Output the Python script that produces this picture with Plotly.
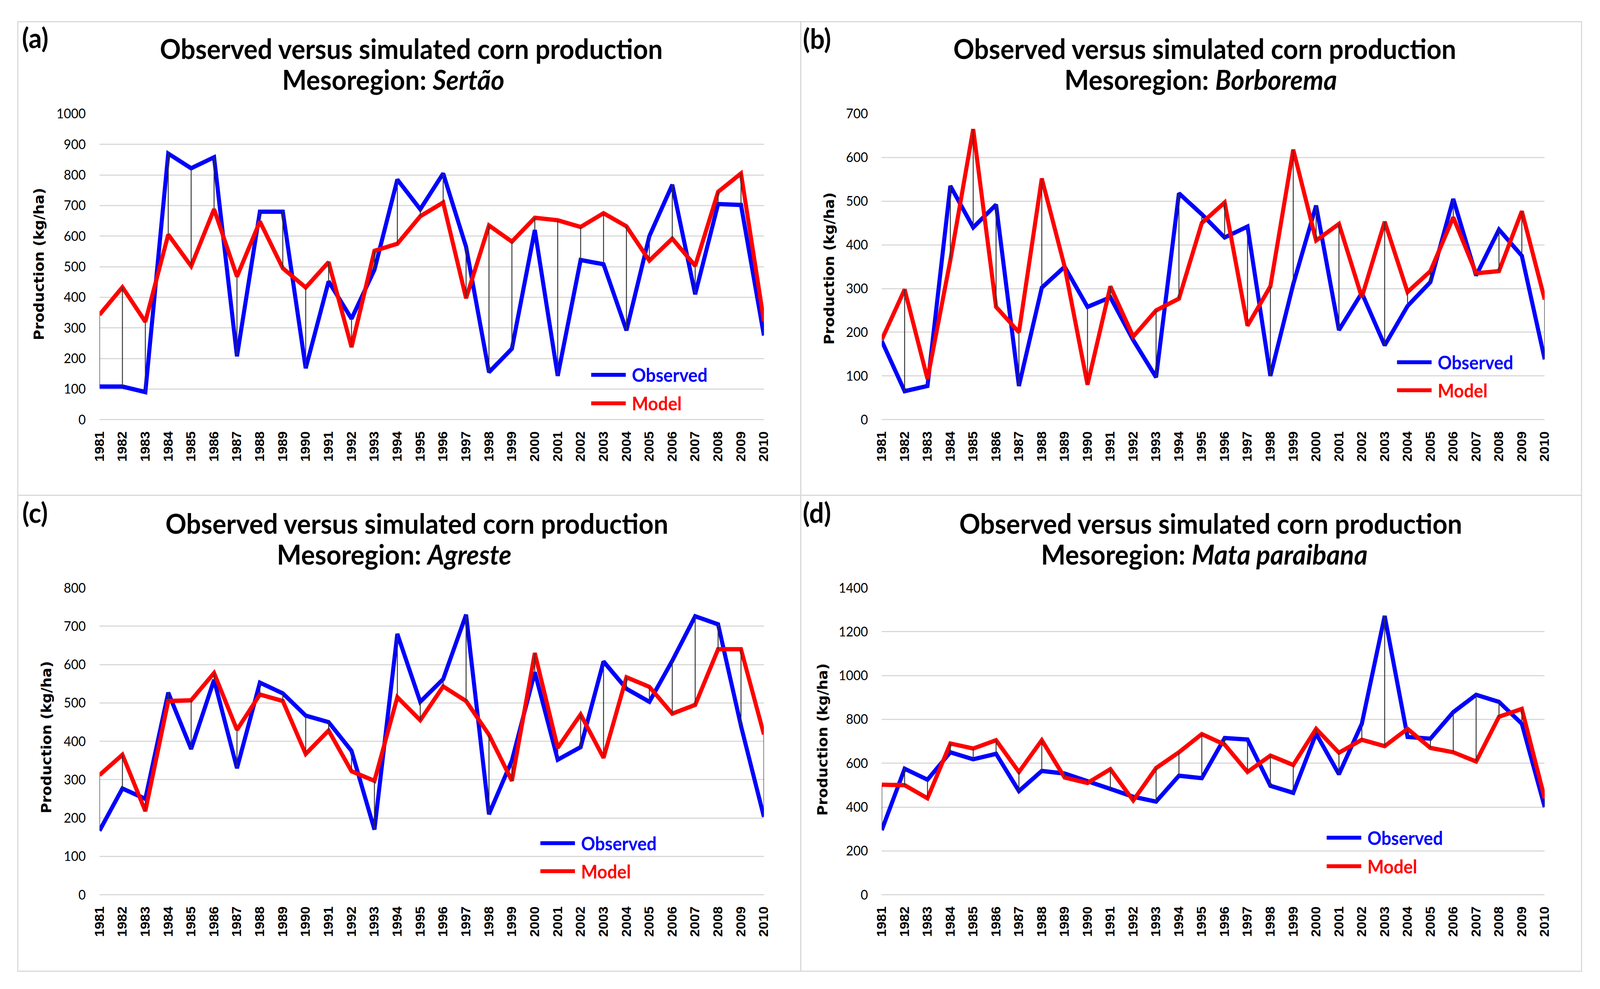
import plotly.graph_objects as go

W, H = 4305, 2533

years = [str(y) for y in range(1981, 2011)]

# (a) Sertão
obs_a = [108, 108, 90, 870, 822, 858, 207, 680, 680, 168, 452, 330, 490, 785, 688, 805, 565, 155, 232, 620,
         143, 522, 508, 292, 600, 768, 410, 705, 702, 275]
mod_a = [343, 433, 320, 605, 502, 688, 468, 648, 495, 432, 515, 237, 552, 575, 665, 710, 397, 635, 582, 660,
         652, 630, 675, 632, 520, 592, 503, 745, 805, 322]
# (b) Borborema
obs_b = [180, 65, 77, 535, 440, 492, 77, 302, 350, 258, 280, 182, 97, 518, 470, 417, 442, 100, 310, 490,
         205, 290, 170, 260, 315, 505, 330, 435, 375, 138]
mod_b = [183, 298, 93, 365, 665, 258, 200, 552, 350, 80, 305, 190, 250, 277, 450, 497, 215, 305, 618, 410,
         448, 280, 453, 292, 340, 463, 335, 340, 477, 275]
# (c) Agreste
obs_c = [167, 277, 250, 527, 380, 560, 330, 553, 525, 467, 450, 375, 170, 680, 503, 562, 730, 210, 350, 580,
         352, 385, 608, 537, 503, 610, 726, 705, 440, 203]
mod_c = [312, 365, 218, 505, 507, 578, 430, 522, 505, 367, 428, 322, 297, 515, 455, 543, 505, 417, 297, 630,
         383, 470, 357, 567, 542, 472, 495, 640, 640, 418]
# (d) Mata paraibana
obs_d = [295, 575, 525, 650, 618, 643, 473, 565, 553, 520, 483, 447, 425, 543, 532, 715, 708, 497, 465, 735,
         550, 780, 1272, 720, 712, 833, 912, 880, 780, 400]
mod_d = [502, 500, 440, 690, 667, 705, 560, 705, 535, 510, 573, 430, 578, 650, 733, 685, 560, 635, 592, 757,
         648, 707, 678, 757, 670, 650, 608, 812, 848, 440]

regions = ["Sertão", "Borborema", "Agreste", "Mata paraibana"]
panel_labels = ["(a)", "(b)", "(c)", "(d)"]
y_max = [1000, 700, 800, 1400]
y_step = [100, 100, 100, 200]
title_line1 = "Observed versus simulated corn production"
y_title = "Production (kg/ha)"
series_names = ["Observed", "Model"]

BLUE = "#0000FF"
RED = "#FF0000"
GRID = "#D9D9D9"

data = [(obs_a, mod_a), (obs_b, mod_b), (obs_c, mod_c), (obs_d, mod_d)]

# layout geometry in pixels
plot_x = [(249, 2053), (2373, 4173), (249, 2053), (2373, 4173)]
plot_y = [(274, 1070), (274, 1070), (1508, 2307), (1508, 2307)]
borders = [(27, 34, 2153, 1267), (2153, 34, 4273, 1267), (27, 1267, 2153, 2506), (2153, 1267, 4273, 2506)]
title1_pos = [(1095, 104), (3250, 104), (1111, 1340), (3266, 1340)]
title2_pos = [(1046, 184), (3239, 184), (1049, 1420), (3249, 1420)]
label_pos = [(36, 75), (2157, 77), (37, 1311), (2157, 1311)]
ytitle_pos = [(85, 665), (2230, 677), (105, 1897), (2212, 1903)]
legend_pos = [(1585, 954, 1028), (3773, 921, 994), (1447, 2173, 2246), (3582, 2159, 2233)]


def px(x):
    return x / W


def py(y):
    return 1 - y / H


fig = go.Figure()
annotations = []
shapes = []
layout = dict(
    width=W, height=H, autosize=False,
    margin=dict(l=0, r=0, t=0, b=0),
    paper_bgcolor="white", plot_bgcolor="white",
    showlegend=True,
)

for i, (obs, mod) in enumerate(data):
    n = i + 1
    xa = "x" if n == 1 else f"x{n}"
    ya = "y" if n == 1 else f"y{n}"
    leg1 = f"legend{2 * i + 1}" if 2 * i + 1 > 1 else "legend"
    leg2 = f"legend{2 * i + 2}"

    fig.add_trace(go.Scatter(x=years, y=obs, mode="lines", name="\u00a0" + series_names[0],
                             line=dict(color=BLUE, width=11), xaxis=xa, yaxis=ya,
                             legend=leg1, showlegend=True))
    fig.add_trace(go.Scatter(x=years, y=mod, mode="lines", name="\u00a0" + series_names[1],
                             line=dict(color=RED, width=11), xaxis=xa, yaxis=ya,
                             legend=leg2, showlegend=True))
    cx, cy = [], []
    for yr, o, m in zip(years, obs, mod):
        cx += [yr, yr, None]
        cy += [o, m, None]
    fig.add_trace(go.Scatter(x=cx, y=cy, mode="lines", line=dict(color="#333333", width=2.5),
                             xaxis=xa, yaxis=ya, showlegend=False, hoverinfo="skip"))

    x0, x1 = plot_x[i]
    y0, y1 = plot_y[i]
    xkey = "xaxis" if n == 1 else f"xaxis{n}"
    ykey = "yaxis" if n == 1 else f"yaxis{n}"
    layout[xkey] = dict(
        domain=[px(x0), px(x1)], anchor=ya, type="category",
        categoryorder="array", categoryarray=years,
        tickangle=-90, showgrid=False, showline=False, ticks="",
        tickfont=dict(family="Liberation Sans", size=35, color="black", weight="bold"),
        ticklabelstandoff=22,
    )
    layout[ykey] = dict(
        domain=[py(y1), py(y0)], anchor=xa, range=[0, y_max[i]],
        tick0=0, dtick=y_step[i], showgrid=True, gridcolor=GRID, gridwidth=3,
        zeroline=True, zerolinecolor=GRID, zerolinewidth=3,
        showline=False, ticks="",
        tickfont=dict(family="Lato", size=34, color="black"),
        ticklabelstandoff=36,
    )

    lx, ly1, ly2 = legend_pos[i]
    for leg, yy, col in ((leg1, ly1, BLUE), (leg2, ly2, RED)):
        layout[leg] = dict(
            x=px(lx - 6), y=py(yy), xanchor="left", yanchor="middle",
            xref="paper", yref="paper",
            bgcolor="rgba(0,0,0,0)", borderwidth=0,
            font=dict(family="Lato", size=47, color=col, weight="bold"),
            itemwidth=93,
        )

    bx0, by0, bx1, by1 = borders[i]
    shapes.append(dict(type="rect", xref="paper", yref="paper",
                       x0=px(bx0), x1=px(bx1), y0=py(by1), y1=py(by0),
                       line=dict(color=GRID, width=3), fillcolor="rgba(0,0,0,0)", layer="below"))

    tx, ty = title1_pos[i]
    annotations.append(dict(text=f"<b>{title_line1}</b>", x=px(tx), y=py(ty), xref="paper", yref="paper",
                            xanchor="center", yanchor="middle", showarrow=False,
                            font=dict(family="Lato", size=70, color="black")))
    tx, ty = title2_pos[i]
    annotations.append(dict(text=f"<b>Mesoregion: <i>{regions[i]}</i></b>", x=px(tx), y=py(ty),
                            xref="paper", yref="paper", xanchor="center", yanchor="middle",
                            showarrow=False, font=dict(family="Lato", size=70, color="black")))
    lx_, ly_ = label_pos[i]
    annotations.append(dict(text=f"<b>{panel_labels[i]}</b>", x=px(lx_), y=py(ly_), xref="paper",
                            yref="paper", xanchor="left", yanchor="middle", showarrow=False,
                            font=dict(family="Lato", size=70, color="black")))
    ax_, ay_ = ytitle_pos[i]
    annotations.append(dict(text=f"<b>{y_title}</b>", x=px(ax_), y=py(ay_), xref="paper", yref="paper",
                            xanchor="center", yanchor="middle", showarrow=False, textangle=-90,
                            font=dict(family="DejaVu Sans", size=37, color="black")))

layout["annotations"] = annotations
layout["shapes"] = shapes
fig.update_layout(**layout)

fit_js = """
(function(){
  var gd = document.getElementById('{plot_id}');
  var els = [document.documentElement, document.body];
  for (var k = 0; k < els.length; k++) {
    els[k].style.margin = '0';
    els[k].style.padding = '0';
    els[k].style.overflow = 'hidden';
  }
  var sx = window.innerWidth / %d, sy = window.innerHeight / %d;
  if (sx > 0 && sy > 0 && (Math.abs(sx - 1) > 0.001 || Math.abs(sy - 1) > 0.001)) {
    gd.style.transformOrigin = '0 0';
    gd.style.transform = 'scale(' + sx + ',' + sy + ')';
  }
})();
""" % (W, H)

fig.write_html("out.html", post_script=fit_js, config={"displayModeBar": False})
